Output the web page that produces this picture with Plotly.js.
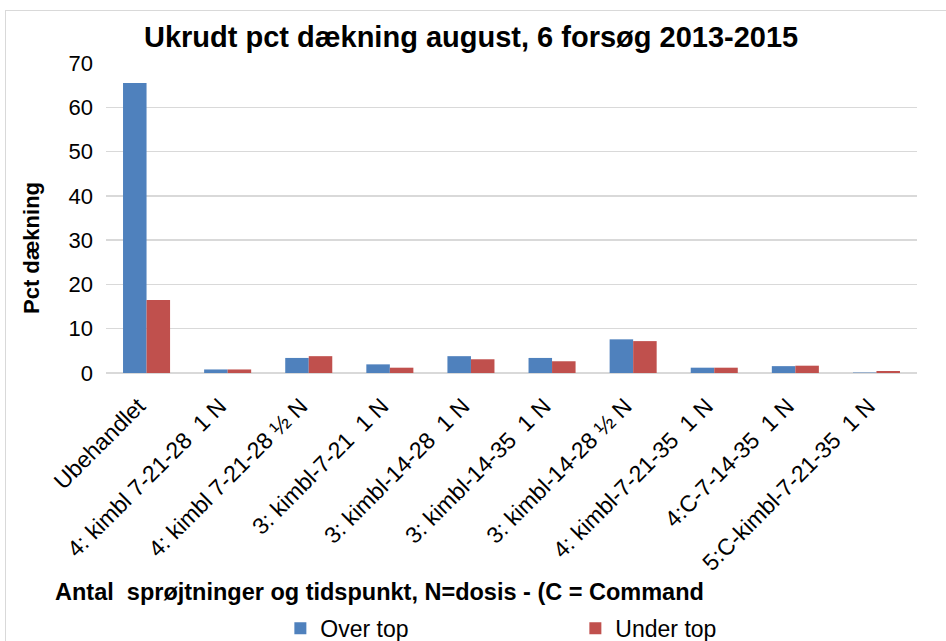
<!DOCTYPE html>
<html>
<head>
<meta charset="utf-8">
<script src="https://cdn.plot.ly/plotly-3.0.1.min.js"></script>
<style>
html,body{margin:0;padding:0;background:#fff;}
#wrap{position:relative;width:946px;height:641px;overflow:hidden;}
#chart{width:946px;height:641px;}
#frame{position:absolute;left:5px;top:10px;width:960px;height:660px;border:1.5px solid #d9d9d9;pointer-events:none;}
</style>
</head>
<body>
<div id="wrap"><div id="chart"></div><div id="frame"></div></div>
<script>
const categories = [
  "Ubehandlet",
  "4: kimbl 7-21-28  1 N",
  "4: kimbl 7-21-28 ½ N",
  "3: kimbl-7-21  1 N",
  "3: kimbl-14-28  1 N",
  "3: kimbl-14-35  1 N",
  "3: kimbl-14-28 ½ N",
  "4: kimbl-7-21-35  1 N",
  "4:C-7-14-35  1 N",
  "5:C-kimbl-7-21-35  1 N"
];
const overTop  = [65.5, 0.8, 3.4, 1.95, 3.8, 3.4, 7.6, 1.2, 1.55, 0.1];
const underTop = [16.5, 0.8, 3.8, 1.2, 3.1, 2.65, 7.2, 1.2, 1.65, 0.45];
const seriesNames = ["Over top", "Under top"];

const font = "Liberation Sans, Arial, sans-serif";
const data = [
  {type:"bar", name:seriesNames[0], x:categories, y:overTop, marker:{color:"#4F81BD"}},
  {type:"bar", name:seriesNames[1], x:categories, y:underTop, marker:{color:"#C0504D"}}
];
const layout = {
  width:946, height:641,
  margin:{l:106, r:29, t:63, b:268},
  paper_bgcolor:"#fff", plot_bgcolor:"#fff",
  font:{family:font, color:"#000", size:22},
  title:{text:"<b>Ukrudt pct dækning august, 6 forsøg 2013-2015</b>", font:{size:29, family:font, color:"#000"},
         x:0.498, xref:"container", xanchor:"center", y:0.942, yref:"container", yanchor:"middle"},
  barmode:"group", bargap:0.42, bargroupgap:0,
  xaxis:{tickangle:-45, tickfont:{size:23}, showgrid:false, zeroline:false, showline:false, ticks:"",
         ticklabelstandoff:14, ticklabelshift:-8, automargin:false},
  yaxis:{range:[0,70], dtick:10, tickfont:{size:22}, showgrid:true, gridcolor:"#d9d9d9", gridwidth:1.5,
         zeroline:true, zerolinecolor:"#d9d9d9", zerolinewidth:1.5, showline:false, ticks:"", ticklen:0,
         ticklabelstandoff:12, automargin:false},
  showlegend:true,
  legend:{orientation:"h", x:0.215, xanchor:"left", xref:"paper", y:0.02, yref:"container", yanchor:"middle", font:{size:23},
          entrywidth:250, entrywidthmode:"pixels", itemwidth:30, traceorder:"normal", bgcolor:"rgba(0,0,0,0)"},
  annotations:[
    {text:"<b>Antal  sprøjtninger og tidspunkt, N=dosis - (C = Command</b>", xref:"paper", yref:"paper",
     x:(53-106)/811, y:(373-592)/310, xanchor:"left", yanchor:"middle", showarrow:false, font:{size:23.5, family:font}},
    {text:"<b>Pct dækning</b>", xref:"paper", yref:"paper", textangle:-90,
     x:(31-106)/811, y:(373-248)/310, xanchor:"center", yanchor:"middle", showarrow:false, font:{size:22, family:font}}
  ]
};
Plotly.newPlot("chart", data, layout, {displayModeBar:false, staticPlot:true});
</script>
</body>
</html>
